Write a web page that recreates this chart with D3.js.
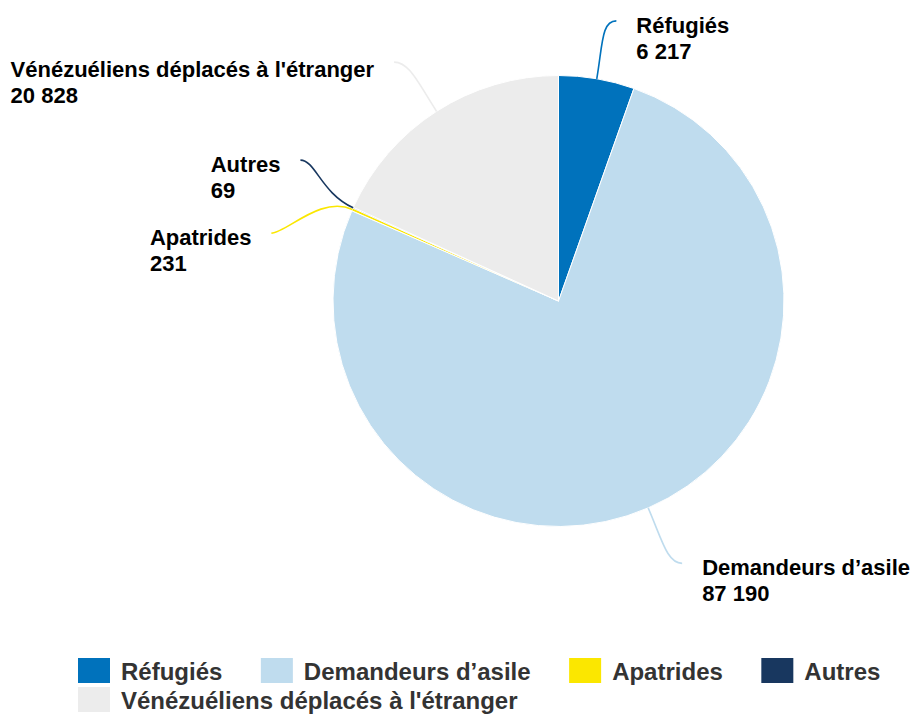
<!DOCTYPE html>
<html><head><meta charset="utf-8">
<script src="https://cdn.jsdelivr.net/npm/d3@7"></script>
<style>
html,body{margin:0;padding:0;background:#fff;}
svg{display:block;font-family:"Liberation Sans",Arial,Helvetica,sans-serif;}
</style></head>
<body>
<svg id="chart" width="914" height="714"></svg>
<script>
const categories = ["Réfugiés", "Demandeurs d’asile", "Apatrides", "Autres", "Vénézuéliens déplacés à l'étranger"];
const values = [6217, 87190, 231, 69, 20828];
const colors = ["#0072bc", "#bfdcee", "#fbe700", "#18375f", "#ececec"];
// label layout tweaks (angle offset in degrees, label distance from center, extra baseline shift)
const labelAngleOffset = [1.9, -1.8, -10.65, 4.2, -1.8];
const labelDistance = [286, 290, 295, 294, 290];
const labelShift = [0, 0, 0, 0, 3];

const W = 914, H = 714;
const cx = 558.5, cy = 301, R = 225.5;
const svg = d3.select("#chart");
const fmt = d3.formatLocale({decimal: ",", thousands: " ", grouping: [3], currency: ["", ""]}).format(",d");

const data = categories.map((c, i) => ({name: c, value: values[i], color: colors[i], i}));
const pie = d3.pie().sort(null).value(d => d.value).startAngle(0).endAngle(2 * Math.PI);
const arcs = pie(data);
const arc = d3.arc().innerRadius(0).outerRadius(R);

const g = svg.append("g").attr("transform", `translate(${cx},${cy})`);
g.selectAll("path.slice").data(arcs).join("path")
  .attr("class", "slice")
  .attr("d", arc)
  .attr("fill", d => d.data.color)
  .attr("stroke", "#ffffff")
  .attr("stroke-width", 1)
  .attr("stroke-linejoin", "round");

const polar = (r, a) => [r * Math.sin(a), -r * Math.cos(a)];
const rad = Math.PI / 180;

const labels = svg.append("g");
arcs.forEach(d => {
  const i = d.data.i;
  const mid = (d.startAngle + d.endAngle) / 2;
  const la = mid + labelAngleOffset[i] * rad;
  const s = polar(R, mid);
  const c1 = polar(R + 35, mid);
  const e = polar(labelDistance[i], la);
  const side = e[0] >= 0 ? 1 : -1;
  const c2 = [e[0] - side * 15, e[1]];
  const path = d3.path();
  path.moveTo(cx + s[0], cy + s[1]);
  path.bezierCurveTo(cx + c1[0], cy + c1[1], cx + c2[0], cy + c2[1], cx + e[0], cy + e[1]);
  labels.append("path")
    .attr("d", path.toString())
    .attr("fill", "none")
    .attr("stroke", d.data.color)
    .attr("stroke-width", 1.6);

  const ex = cx + e[0], ey = cy + e[1] + labelShift[i];
  const t = labels.append("text")
    .attr("font-size", 22)
    .attr("font-weight", "bold")
    .attr("fill", "#000");
  const t1 = t.append("tspan").attr("y", ey + 12).text(d.data.name);
  const t2 = t.append("tspan").attr("y", ey + 38).text(fmt(d.data.value));
  const w = Math.max(t1.node().getComputedTextLength(), t2.node().getComputedTextLength());
  const x0 = side > 0 ? ex + 20 : ex - 20 - w;
  t1.attr("x", x0);
  t2.attr("x", x0);
});

// Legend
const legend = svg.append("g");
const legStartX = 78, legMaxX = 900, legY = 658, rowH = 29, boxW = 32, boxH = 25, textGap = 11, itemGap = 38.5;
let lx = legStartX, row = 0;
data.forEach(d => {
  const item = legend.append("g");
  const txt = item.append("text")
    .attr("font-size", 24)
    .attr("font-weight", "bold")
    .attr("fill", "#333333")
    .text(d.name);
  const tw = txt.node().getComputedTextLength();
  const iw = boxW + textGap + tw;
  if (lx + iw > legMaxX) { row++; lx = legStartX; }
  const y = legY + row * rowH;
  item.insert("rect", "text")
    .attr("x", lx).attr("y", y).attr("width", boxW).attr("height", boxH)
    .attr("fill", d.color);
  txt.attr("x", lx + boxW + textGap).attr("y", y + 22);
  lx += iw + itemGap;
});
</script>
</body></html>
